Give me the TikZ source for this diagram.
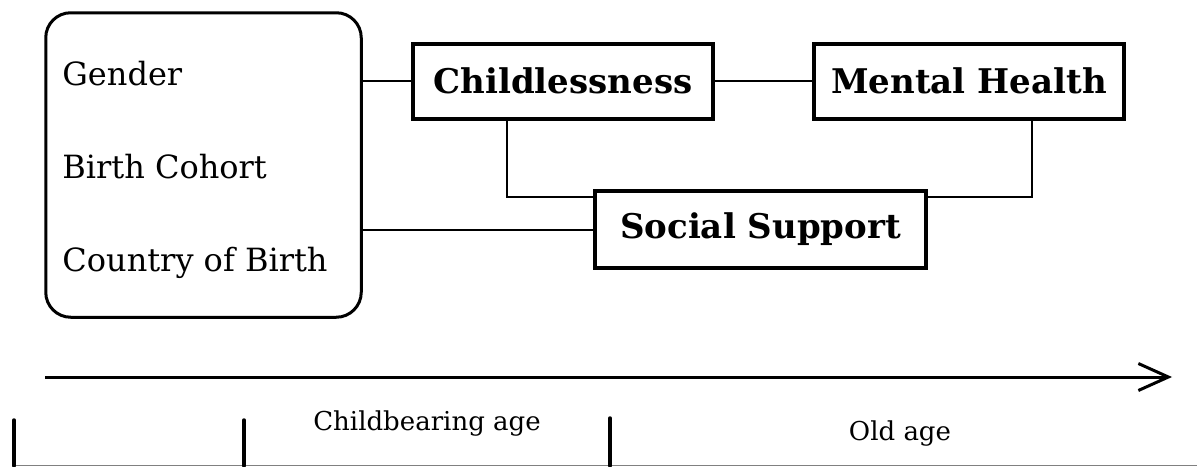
\documentclass[tikz,border=0pt]{standalone}
\usepackage{fontspec}
\setmainfont{DejaVu Serif}
\usetikzlibrary{calc,positioning}
\usetikzlibrary{arrows.meta}
\tikzstyle{entry}=[draw, line width=2pt, align=center, inner sep=0pt]
\tikzstyle{factors} = [entry, line width=1.5pt, rounded corners=12.5pt, minimum width=157.75pt, minimum height=152.25pt]
\tikzstyle{outcome} = [entry, font=\fontsize{17}{20}\selectfont\bfseries, minimum height=37.5pt]
\tikzstyle{item} = [anchor=base west, inner sep=0pt, font=\fontsize{16}{19}\selectfont]
\tikzstyle{link} = [line width=1pt]
\tikzstyle{tick} = [line width=1.75pt, line cap=round]
\tikzstyle{phase} = [font=\fontsize{13}{15}\selectfont]

\begin{document}
\begin{tikzpicture}[x=0.5pt,y=-0.5pt]
\useasboundingbox (0,0) rectangle (1197,466);

\node (factors) [factors] at (203.5,165) {};
\node (gender) [item] at (62,85) {Gender};
\node (cohort) [item] at (62,178) {Birth Cohort};
\node (country) [item] at (62,271) {Country of Birth};

\node (child) [outcome, minimum width=150pt] at (563,81) {Childlessness};
\node (mental) [outcome, minimum width=155pt] at (969,81) {Mental Health};
\node (support) [outcome, minimum width=165.5pt, minimum height=38.5pt] at (760.5,229.5) {Social Support};

\draw [link] (factors.east |- child.west) -- (child.west);
\draw [link] (child.east) -- (mental.west);
\draw [link] ([xshift=-28pt]child.south) |- ([yshift=-4pt]support.north west);
\draw [link] ([xshift=31.5pt]mental.south) |- ([yshift=-4pt]support.north east);
\draw [link] (factors.east |- support.west) -- (support.west);

% time line
\coordinate (tstart) at (45,377);
\coordinate (tend) at (1172,377);
\draw [line width=1.5pt, -{Straight Barb[length=15pt,width=13.5pt]}] (tstart) -- (tend);

\coordinate (b0) at (14,466);
\coordinate (b1) at (244,466);
\coordinate (b2) at (610,466);
\coordinate (bend) at (1197,465.5);
\draw [gray, line width=0.75pt] (b0 |- bend) -- (bend);
\draw [tick] (14,420) -- (b0);
\draw [tick] (244,420) -- (b1);
\draw [tick] (610,418) -- (b2);

\node (childbearing) [phase] at (427,424) {Childbearing age};
\node (oldage) [phase] at (900,434) {Old age};

\end{tikzpicture}
\end{document}
